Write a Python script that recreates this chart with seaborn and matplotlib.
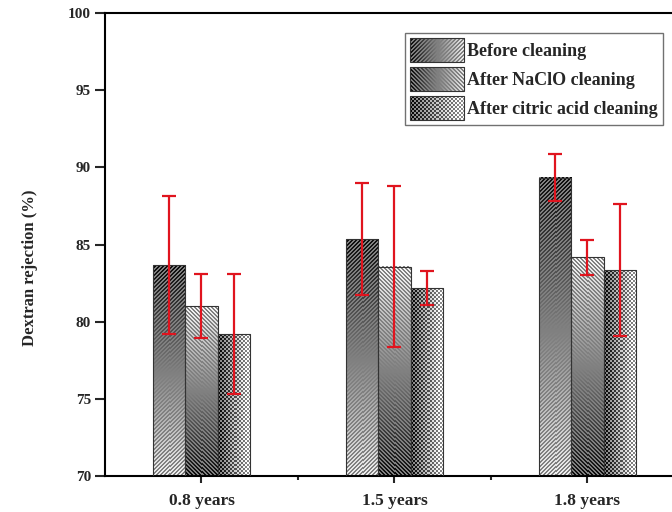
import numpy as np
import pandas as pd
import matplotlib
matplotlib.use("Agg")
import matplotlib.pyplot as plt
import seaborn as sns
from matplotlib.patches import Rectangle
from matplotlib.legend_handler import HandlerBase
from matplotlib.image import BboxImage
from matplotlib.transforms import Bbox, TransformedBbox

# ---- data ----
ages = ["0.8 years", "1.5 years", "1.8 years"]
treatments = ["Before cleaning", "After NaClO cleaning", "After citric acid cleaning"]
before = [83.67, 85.35, 89.33]
before_err = [4.45, 3.62, 1.52]
naclo = [81.01, 83.56, 84.17]
naclo_err = [2.05, 5.20, 1.12]
citric = [79.20, 82.18, 83.34]
citric_err = [3.86, 1.08, 4.27]

values = [before, naclo, citric]
errors = [before_err, naclo_err, citric_err]

df = pd.DataFrame({
    "age": ages * 3,
    "treatment": np.repeat(treatments, len(ages)),
    "rejection": before + naclo + citric,
})

DPI = 100


def pattern_fill(kind, w_px, h_px, legend=False):
    """Greyscale fill (rows top->bottom) with a gradient and a fine texture."""
    w_px, h_px = max(int(round(w_px)), 2), max(int(round(h_px)), 2)
    row, col = np.mgrid[0:h_px, 0:w_px]
    t_v = row / (h_px - 1)          # 0 at top, 1 at bottom
    t_h = col / (w_px - 1)          # 0 at left, 1 at right
    if kind == "before":
        grad = 0.04 + 0.9 * (t_h if legend else t_v)
        mark = ((col + row) % 4) < 2
        return np.where(mark, 0.5, grad)
    if kind == "naclo":
        grad = (0.04 + 0.9 * t_h) if legend else (0.97 - 0.93 * t_v)
        mark = ((col - row) % 4) < 2
        return np.where(mark, 0.5, grad)
    # citric: checker texture over a left-to-right gradient
    grad = 0.22 + 0.58 * t_h
    mark = ((col // 2 + row // 2) % 2) == 0
    return np.clip(np.where(mark, grad + 0.28, grad - 0.22), 0, 1)


kinds = {"Before cleaning": "before",
         "After NaClO cleaning": "naclo",
         "After citric acid cleaning": "citric"}

sns.set_style("ticks")
plt.rcParams["font.family"] = ["Liberation Serif", "DejaVu Serif"]
plt.rcParams["font.weight"] = "bold"

fig = plt.figure(figsize=(6.72, 5.12), dpi=DPI)
ax = fig.add_axes([105 / 672, 1 - 476 / 512, 1 - 105 / 672, (476 - 13) / 512])

sns.barplot(data=df, x="age", y="rejection", hue="treatment", order=ages,
            hue_order=treatments, errorbar=None, width=0.5, gap=0,
            palette=["0.5"] * 3, legend=False, ax=ax)

XLIM = (-0.5, 2.438)
YLIM = (70, 100)
ax.set_xlim(*XLIM)
ax.set_ylim(*YLIM)

for tr, cont, err in zip(treatments, ax.containers, errors):
    xs, ys = [], []
    for bar in cont.patches:
        x0, w = bar.get_x(), bar.get_width()
        y1 = bar.get_y() + bar.get_height()
        bar.set_facecolor("none")
        bar.set_edgecolor("none")
        (px0, py0), (px1, py1) = ax.transData.transform([(x0, YLIM[0]), (x0 + w, y1)])
        fill = pattern_fill(kinds[tr], px1 - px0, py1 - py0)
        ax.imshow(fill, cmap="gray", vmin=0, vmax=1, aspect="auto",
                  extent=(x0, x0 + w, YLIM[0], y1), origin="upper",
                  interpolation="nearest", zorder=1)
        ax.add_patch(Rectangle((x0, YLIM[0]), w, y1 - YLIM[0], facecolor="none",
                               edgecolor="0.2", linewidth=0.8, zorder=3))
        xs.append(x0 + w / 2)
        ys.append(y1)
    ax.errorbar(xs, ys, yerr=err, fmt="none", ecolor="#e0141e", elinewidth=1.6,
                capsize=5, capthick=1.6, zorder=5)

ax.set_xlim(*XLIM)
ax.set_ylim(*YLIM)
ax.set_yticks(np.arange(70, 101, 5))
ax.set_xticks([0.5, 1.5], minor=True)
ax.tick_params(axis="y", direction="out", length=7, width=1.5, labelsize=11, pad=3)
ax.tick_params(axis="x", which="major", direction="out", length=5, width=1.5,
               labelsize=12.5, pad=7)
ax.tick_params(axis="x", which="minor", direction="out", length=3, width=1.5)
for lab in ax.get_xticklabels() + ax.get_yticklabels():
    lab.set_fontweight("bold")

ax.set_xlabel("")
ax.set_ylabel("Dextran rejection (%)", fontsize=12, fontweight="bold")
ax.yaxis.set_label_coords(-0.118, 0.45)
for side in ["left", "bottom", "top"]:
    ax.spines[side].set_visible(True)
    ax.spines[side].set_linewidth(1.5)
    ax.spines[side].set_color("black")
ax.spines["right"].set_visible(False)


class TextureHandler(HandlerBase):
    def __init__(self, kind):
        super().__init__()
        self.kind = kind

    def create_artists(self, legend, orig_handle, xdescent, ydescent, width,
                       height, fontsize, trans):
        bb = Bbox.from_bounds(-xdescent, -ydescent, width, height)
        bimg = BboxImage(TransformedBbox(bb, trans), cmap="gray",
                         norm=plt.Normalize(0, 1), interpolation="nearest")
        bimg.set_data(pattern_fill(self.kind, width * DPI / 72, height * DPI / 72,
                                   legend=True))
        edge = Rectangle((-xdescent, -ydescent), width, height, facecolor="none",
                         edgecolor="0.2", linewidth=0.8, transform=trans)
        return [bimg, edge]


handles = [Rectangle((0, 0), 1, 1) for _ in treatments]
hmap = {hd: TextureHandler(kinds[tr]) for hd, tr in zip(handles, treatments)}
leg = ax.legend(handles, treatments, handler_map=hmap, loc="upper right",
                bbox_to_anchor=(1 - 9 / 567, 1 - 20 / 463), frameon=True,
                fancybox=False, edgecolor="0.3", fontsize=13, handlelength=3.0,
                handleheight=1.65, labelspacing=0.28, handletextpad=0.15,
                borderpad=0.3, borderaxespad=0)
leg.get_frame().set_linewidth(1.0)
for t in leg.get_texts():
    t.set_fontweight("bold")

fig.savefig("out.png", dpi=DPI)
